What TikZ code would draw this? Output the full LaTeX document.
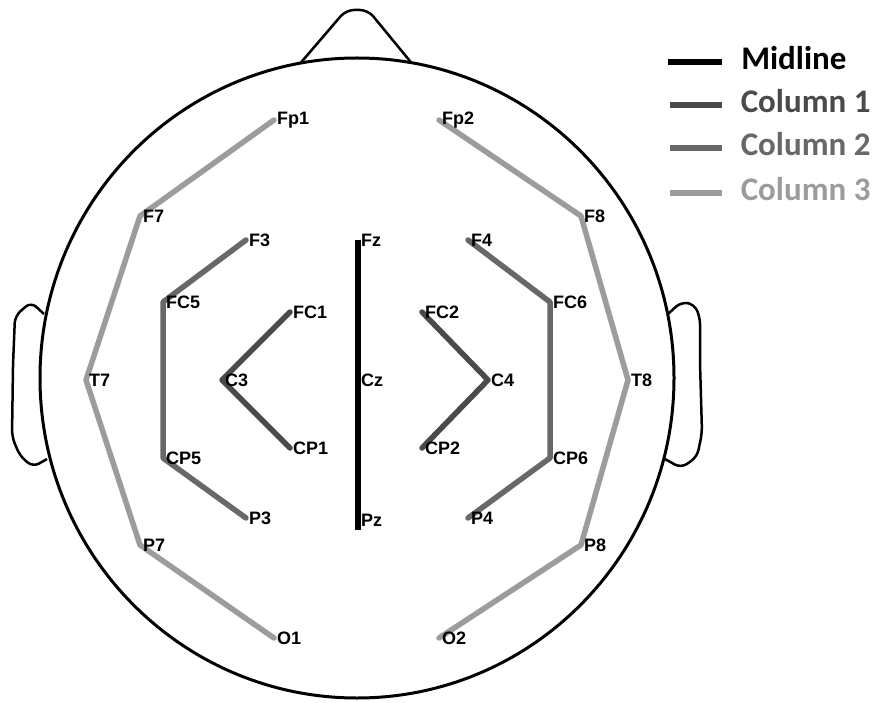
\documentclass[tikz,border=0pt]{standalone}
\usepackage{fontspec}
\usetikzlibrary{calc}
\setmainfont{Liberation Sans}
\newfontfamily\keyfont{Carlito}
\definecolor{colone}{HTML}{4A4A4A}
\definecolor{coltwo}{HTML}{686868}
\definecolor{colthree}{HTML}{9C9C9C}
\tikzset{
  lbl/.style={font=\bfseries\fontsize{18}{20}\selectfont,inner sep=0pt,anchor=west,xshift=3pt},
  mid/.style={line width=6.5pt,black},
  cone/.style={line width=5.5pt,colone,line cap=round,line join=round},
  ctwo/.style={line width=5.5pt,coltwo,line cap=round,line join=round},
  cthree/.style={line width=5.5pt,colthree,line cap=round,line join=round},
  key/.style={font=\keyfont\bfseries\fontsize{33}{36}\selectfont,anchor=west,inner sep=0pt,yshift=4pt}
}
\begin{document}
\begin{tikzpicture}[x=1pt,y=-1pt]
  \useasboundingbox (0,0) rectangle (883,703);
  \fill[white] (0,0) rectangle (883,703);
  % nose and ears
  \draw[line width=2.5pt,rounded corners=8pt](298,66) -- (346,10) -- (368,10) -- (414,66);
  \draw[line width=2.5pt,rounded corners=7pt](44,314) -- (31,302) -- (15,316) -- (13,365) -- (12,437) -- (20,456) -- (33,467) -- (47,459);
  \draw[line width=2.5pt,rounded corners=7pt](668,314) -- (681,302) -- (694,304) -- (700,317) -- (700,363) -- (702,433) -- (697,457) -- (681,468) -- (665,459);
  % head
  \fill[white](357,378)circle[x radius=317pt,y radius=320pt];
  \draw[line width=3pt](357,378)circle[x radius=317pt,y radius=320pt];
  % electrodes
  \coordinate(Fp1) at (274,120);
  \coordinate(Fp2) at (439,120);
  \coordinate(F7) at (140,216);
  \coordinate(F8) at (581,216);
  \coordinate(F3) at (246,240);
  \coordinate(F4) at (468,240);
  \coordinate(Fz) at (358,240);
  \coordinate(FC5) at (163,302);
  \coordinate(FC6) at (550,302);
  \coordinate(FC1) at (290,312);
  \coordinate(FC2) at (422,312);
  \coordinate(T7) at (86,380);
  \coordinate(T8) at (628,380);
  \coordinate(C3) at (222,380);
  \coordinate(C4) at (488,380);
  \coordinate(Cz) at (358,380);
  \coordinate(CP5) at (163,458);
  \coordinate(CP6) at (550,458);
  \coordinate(CP1) at (290,448);
  \coordinate(CP2) at (422,448);
  \coordinate(P3) at (246,518);
  \coordinate(P4) at (468,518);
  \coordinate(Pz) at (358,520);
  \coordinate(P7) at (140,545);
  \coordinate(P8) at (581,545);
  \coordinate(O1) at (274,638);
  \coordinate(O2) at (439,638);
  % chains
  \draw[mid](Fz) -- ($(Pz)+(0,10)$);
  \draw[cone](FC1) -- (C3) -- (CP1);
  \draw[cone](FC2) -- (C4) -- (CP2);
  \draw[ctwo](F3) -- (FC5) -- (CP5) -- (P3);
  \draw[ctwo](F4) -- (FC6) -- (CP6) -- (P4);
  \draw[cthree](Fp1) -- (F7) -- (T7) -- (P7) -- (O1);
  \draw[cthree](Fp2) -- (F8) -- (T8) -- (P8) -- (O2);
  \foreach \e in {Fp1,Fp2,F7,F8,F3,F4,Fz,FC5,FC6,FC1,FC2,T7,T8,C3,C4,Cz,CP5,CP6,CP1,CP2,P3,P4,Pz,P7,P8,O1,O2}
    \node[lbl](t\e) at (\e) {\e};
  % key
  \draw[line width=6.5pt,black](668,62) -- (722,62)node[key,black,right=16pt]{Midline};
  \draw[line width=5.5pt,colone](670,105) -- (722,105)node[key,colone,right=16pt]{Column 1};
  \draw[line width=5.5pt,coltwo](670,148) -- (722,148)node[key,coltwo,right=16pt]{Column 2};
  \draw[line width=5.5pt,colthree](670,193) -- (722,193)node[key,colthree,right=16pt]{Column 3};
\end{tikzpicture}
\end{document}
